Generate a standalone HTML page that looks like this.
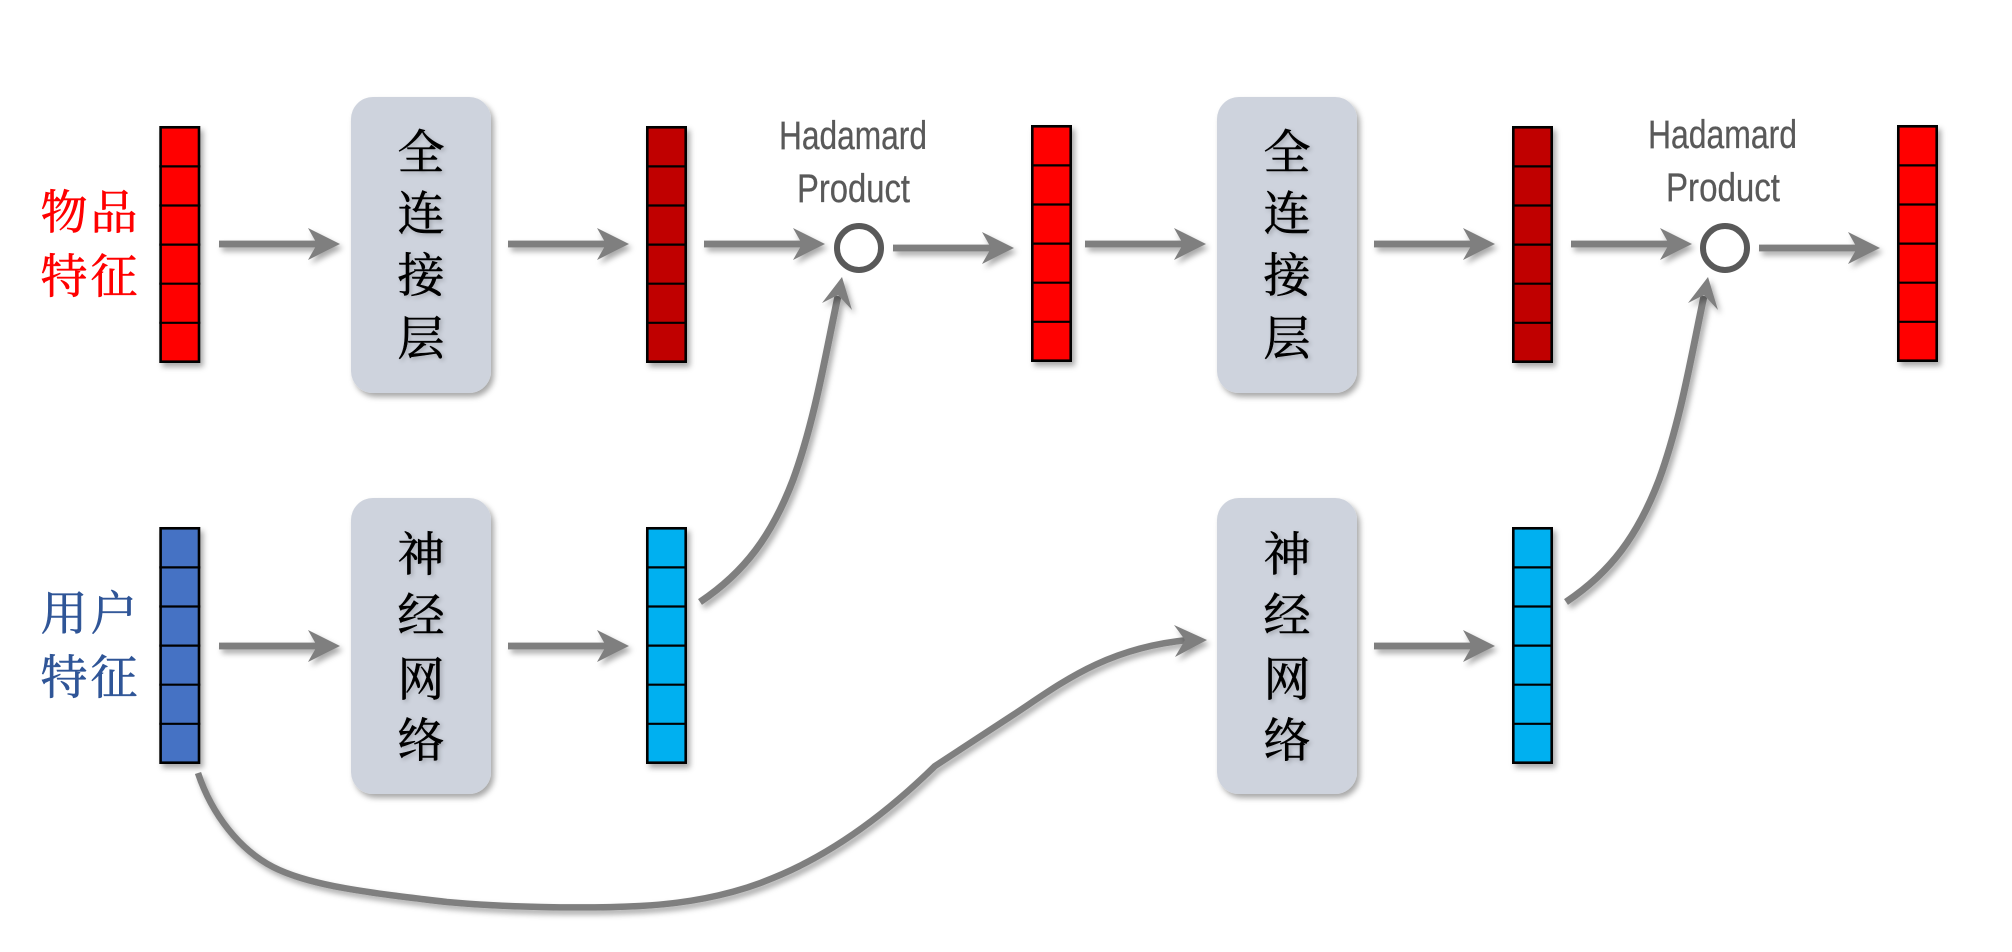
<!DOCTYPE html>
<html><head><meta charset="utf-8"><style>
html,body{margin:0;padding:0;background:#fff;width:2012px;height:952px;overflow:hidden}
svg{display:block}
.c{font-family:"Liberation Serif","Noto Serif CJK SC",serif;font-size:47px;text-anchor:middle;stroke-width:.6px}
.k{fill:#000;stroke:#000}
.r{fill:#f00;stroke:#f00}
.b{fill:#2f5597;stroke:#2f5597}
.h{font-family:"Liberation Sans",sans-serif;font-size:40px;fill:#595959;stroke:#595959;stroke-width:.3px}
</style></head><body>
<svg width="2012" height="952" viewBox="0 0 2012 952" xmlns="http://www.w3.org/2000/svg">
<defs>
<filter id="s" x="-30%" y="-30%" width="160%" height="160%"><feDropShadow dx="3" dy="4" stdDeviation="3" flood-color="#000" flood-opacity=".34"/></filter>
<filter id="t" x="-30%" y="-30%" width="160%" height="160%"><feDropShadow dx="2" dy="2" stdDeviation="2" flood-color="#000" flood-opacity=".2"/></filter>
<g id="a"><rect x="0" y="-3.4" width="102" height="6.8" fill="#7f7f7f"/><polygon points="121,0 89,-16 98,0 89,16" fill="#7f7f7f"/></g>
<path id="l" d="M0 39.1H41M0 78.2H41M0 117.3H41M0 156.4H41M0 195.5H41" stroke="#000" stroke-width="2.2" fill="none"/>
</defs>

<!-- stacks -->
<g stroke="#000" stroke-width="2.6">
<rect x="160.6" y="127.3" width="38.4" height="234.4" fill="#f00" filter="url(#s)"/>
<rect x="647.3" y="127.3" width="38.4" height="234.4" fill="#c00000" filter="url(#s)"/>
<rect x="1032.3" y="126.3" width="38.4" height="234.4" fill="#f00" filter="url(#s)"/>
<rect x="1513.3" y="127.3" width="38.4" height="234.4" fill="#c00000" filter="url(#s)"/>
<rect x="1898.3" y="126.3" width="38.4" height="234.4" fill="#f00" filter="url(#s)"/>
<rect x="160.6" y="528.3" width="38.4" height="234.4" fill="#4472c4" filter="url(#s)"/>
<rect x="647.3" y="528.3" width="38.4" height="234.4" fill="#00b0f0" filter="url(#s)"/>
<rect x="1513.3" y="528.3" width="38.4" height="234.4" fill="#00b0f0" filter="url(#s)"/>
</g>
<use href="#l" x="159.3" y="127.3"/><use href="#l" x="646" y="127.3"/><use href="#l" x="1031" y="126.3"/>
<use href="#l" x="1512" y="127.3"/><use href="#l" x="1897" y="126.3"/>
<use href="#l" x="159.3" y="528.3"/><use href="#l" x="646" y="528.3"/><use href="#l" x="1512" y="528.3"/>

<!-- boxes -->
<g fill="#ced3dd" filter="url(#s)">
<rect x="351" y="97" width="140" height="296" rx="22"/>
<rect x="1217" y="97" width="140" height="296" rx="22"/>
<rect x="351" y="498" width="140" height="296" rx="22"/>
<rect x="1217" y="498" width="140" height="296" rx="22"/>
</g>

<!-- straight arrows -->
<g filter="url(#s)">
<use href="#a" x="219" y="244"/><use href="#a" x="508" y="244"/><use href="#a" x="704" y="244"/>
<use href="#a" x="893" y="248"/><use href="#a" x="1085" y="244"/><use href="#a" x="1374" y="244"/>
<use href="#a" x="1571" y="244"/><use href="#a" x="1759" y="248"/>
<use href="#a" x="219" y="646"/><use href="#a" x="508" y="646"/><use href="#a" x="1374" y="646"/>
</g>

<!-- curved arrows -->
<g filter="url(#s)" fill="none" stroke="#7f7f7f" stroke-width="7">
<path d="M700 602C745 572 772 535 793 480C815 420 826 352 838 296"/>
<path d="M1566 602C1611 572 1638 535 1659 480C1681 420 1692 352 1704 296"/>
<path d="M198 773C212 815 240 850 273 867C310 886 370 893 447 902C500 907 580 909 640 906C700 903 745 890 773 878C830 855 885 815 935 766L1013 715C1060 684 1105 648 1188 640" stroke-width="6.5"/>
</g>
<g filter="url(#s)" fill="#7f7f7f">
<polygon points="842,277 822,303 838,295 852,310"/>
<polygon points="1708,277 1688,303 1704,295 1718,310"/>
<polygon points="1207,640 1174,625 1185,640 1175,657"/>
</g>

<!-- circles -->
<circle cx="859" cy="248" r="22" fill="#fff" stroke="#595959" stroke-width="6"/>
<circle cx="1725" cy="248" r="22" fill="#fff" stroke="#595959" stroke-width="6"/>

<!-- Hadamard labels -->
<text class="h" x="779" y="149" textLength="148" lengthAdjust="spacingAndGlyphs">Hadamard</text>
<text class="h" x="797" y="202" textLength="113" lengthAdjust="spacingAndGlyphs">Product</text>
<text class="h" x="1648" y="148" textLength="149" lengthAdjust="spacingAndGlyphs">Hadamard</text>
<text class="h" x="1666" y="201" textLength="114" lengthAdjust="spacingAndGlyphs">Product</text>

<!-- side labels -->
<g class="c r">
<text x="64" y="229">物</text><text x="114" y="229">品</text>
<text x="64" y="293">特</text><text x="114" y="293">征</text>
</g>
<g class="c b">
<text x="64" y="630">用</text><text x="114" y="630">户</text>
<text x="64" y="694">特</text><text x="114" y="694">征</text>
</g>

<!-- box text -->
<g class="c k" filter="url(#t)">
<text x="421" y="169">全</text><text x="421" y="230">连</text><text x="421" y="292">接</text><text x="421" y="355">层</text>
<text x="1287" y="169">全</text><text x="1287" y="230">连</text><text x="1287" y="292">接</text><text x="1287" y="355">层</text>
<text x="421" y="571">神</text><text x="421" y="632">经</text><text x="421" y="696">网</text><text x="421" y="757">络</text>
<text x="1287" y="571">神</text><text x="1287" y="632">经</text><text x="1287" y="696">网</text><text x="1287" y="757">络</text>
</g>
</svg>
</body></html>
